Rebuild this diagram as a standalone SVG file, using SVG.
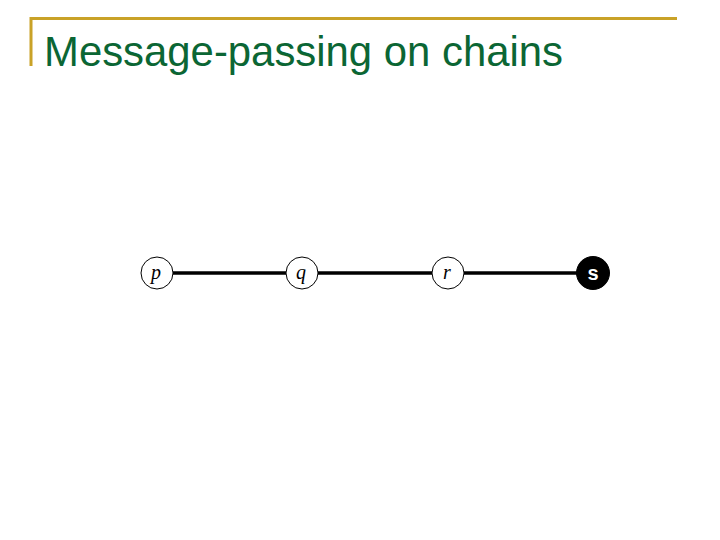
<svg xmlns="http://www.w3.org/2000/svg" width="720" height="540" viewBox="0 0 720 540">
<style>
.title{font-family:"Liberation Sans",Arial,sans-serif;font-size:43px;fill:#0b6634}
.node{fill:#fff;stroke:#000;stroke-width:1}
.dark{fill:#000;stroke:#000;stroke-width:1}
.lbl{font-family:"Liberation Serif","Times New Roman",serif;font-style:italic;font-size:20px;fill:#000;text-anchor:middle}
.lbl2{font-family:"Liberation Sans",Arial,sans-serif;font-weight:bold;font-size:20px;fill:#fff;text-anchor:middle}
.edge{stroke:#000;stroke-width:3.5;fill:none}
</style>
<rect width="720" height="540" fill="#fff"/>
<g id="header">
<path d="M31,66 V18.5 H677" fill="none" stroke="#c9a227" stroke-width="3"/>
<text class="title" x="44" y="66" textLength="519" lengthAdjust="spacingAndGlyphs">Message-passing on chains</text>
</g>
<g id="connectors">
<line class="edge" x1="173" y1="273" x2="286" y2="273"/>
<line class="edge" x1="318" y1="273" x2="432" y2="273"/>
<line class="edge" x1="464" y1="273" x2="577" y2="273"/>
</g>
<g id="node-p"><circle class="node" cx="157" cy="273" r="16"/><text class="lbl" x="156" y="279">p</text></g>
<g id="node-q"><circle class="node" cx="302" cy="273" r="16"/><text class="lbl" x="301" y="279">q</text></g>
<g id="node-r"><circle class="node" cx="448" cy="273" r="16"/><text class="lbl" x="447" y="279">r</text></g>
<g id="node-s"><circle class="dark" cx="593" cy="273" r="16.5"/><text class="lbl2" x="593" y="280">s</text></g>
</svg>
